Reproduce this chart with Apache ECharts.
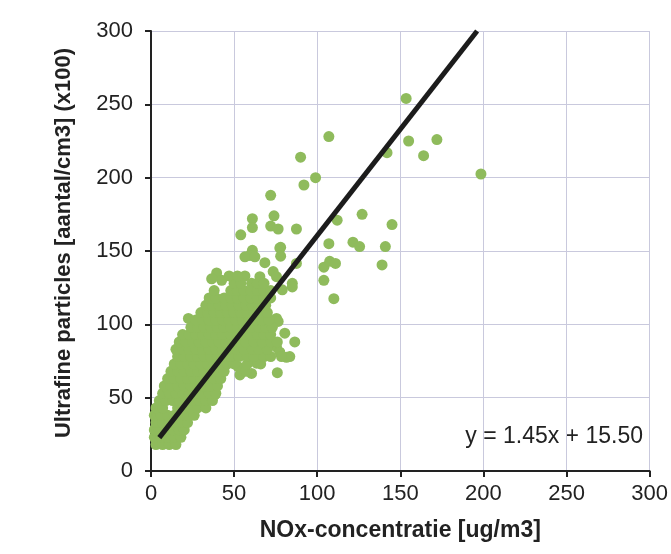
<!DOCTYPE html>
<html>
<head>
<meta charset="utf-8">
<script src="https://cdn.jsdelivr.net/npm/echarts@6/dist/echarts.min.js"></script>
<style>
html,body{margin:0;padding:0;background:#fff;}
#chart{width:671px;height:554px;}
</style>
</head>
<body>
<div id="chart"></div>
<script>
// Axis tick values
var xTicks = [0, 50, 100, 150, 200, 250, 300];
var yTicks = [0, 50, 100, 150, 200, 250, 300];
var xTitle = 'NOx-concentratie [ug/m3]';
var yTitle = 'Ultrafine particles [aantal/cm3] (x100)';

// Regression
var slope = 1.45;
var intercept = 15.50;
var fitStartX = 5;
var fitEndY = 300;

// Scattered (isolated) measurement points [NOx, UFP]
var outerPoints = [
  [107,228],[90,214],[142,217],[99,200],[92,195],[72,188],[61,172],[61,166],[74,174],[72,167],
  [76.5,165],[87.5,165],[54,161],[112,171],[127,175],[145,168],[107,155],[121.5,156],[125.5,153],[141,153],
  [78,152.5],[61,150.5],[153.5,254],[155,225],[172,226],[164,215],[198.5,202.5],[104,139],[107.5,143],[111,141.5],
  [139,140.5],[104,130],[85,128],[110,117.5],[77.5,152],[78,146.5],[59.5,147],[56.5,146],[62.5,146],[68.5,142],
  [87.5,141.5],[39.5,135],[36.5,131],[42.5,130],[56.5,133],[65.5,132.5],[73.5,136],[75.5,132.5],[79,123.5],[60.5,128],
  [22.5,104],[19.5,86],[17.5,86],[75.5,104],[76.5,102],[80.5,94],[86.5,88],[75.5,84.5],[77.5,81],[83.5,78],
  [81.5,77.5],[78.5,78],[64.5,77],[63.5,73.5],[52.5,71],[53.5,65.5],[60.5,66.5],[76,67],[38.5,52],[32.5,48.5],
  [23.5,40.5],[16.5,28],[15.5,22],[5.5,19],[2.5,29],[6.5,40.5],[85,125.5]
];

// Dense cluster points [NOx, UFP]
var clusterPoints = [
  [3,18],[7,18],[11,18],[15,18],
  [2,23],[6,23],[10,23],[14,23],[18,23],
  [2,28],[5,28],[9,28],[13,28],[17,28],[20,28],
  [3,33],[7,33],[11,33],[15,33],[19,33],[22,33],
  [2,38],[6,38],[10,38],[14,38],[18,38],[22,38],[26,38],
  [3,43],[7,43],[16,43],[20,43],[24,43],[28,43],[33,43],
  [5,48],[9,48],[13,48],[17,48],[21,48],[25,48],[29,48],[33,48],[37,48],
  [7,53],[11,53],[15,53],[19,53],[23,53],[27,53],[31,53],[35,53],[39,53],
  [8,58],[12,58],[16,58],[20,58],[24,58],[28,58],[32,58],[36,58],[40,58],
  [10,63],[14,63],[18,63],[22,63],[26,63],[30,63],[34,63],[38,63],[42,63],
  [12,68],[16,68],[20,68],[24,68],[28,68],[32,68],[36,68],[40,68],[44,68],[57,68],
  [14,73],[18,73],[22,73],[26,73],[30,73],[34,73],[38,73],[42,73],[46,73],[50,73],[58,73],[66,73],
  [16,78],[20,78],[24,78],[28,78],[32,78],[36,78],[40,78],[44,78],[48,78],[53,78],[58,78],[62,78],[68,78],[72,78],
  [15,83],[19,83],[23,83],[27,83],[31,83],[35,83],[39,83],[43,83],[47,83],[51,83],[56,83],[61,83],[65,83],[70,83],
  [17,88],[21,88],[25,88],[29,88],[33,88],[37,88],[41,88],[45,88],[49,88],[53,88],[57,88],[62,88],[67,88],[72,88],[76,88],
  [19,93],[23,93],[27,93],[31,93],[35,93],[39,93],[43,93],[48,93],[52,93],[56,93],[60,93],[64,93],[68,93],[72,93],
  [24,98],[28,98],[32,98],[36,98],[40,98],[44,98],[48,98],[52,98],[56,98],[60,98],[65,98],[69,98],[73,98],
  [27,103],[31,103],[35,103],[39,103],[43,103],[47,103],[51,103],[55,103],[59,103],[63,103],[67,103],[71,103],
  [30,108],[34,108],[38,108],[42,108],[46,108],[50,108],[54,108],[58,108],[62,108],[66,108],[70,108],
  [33,113],[37,113],[41,113],[45,113],[49,113],[53,113],[57,113],[61,113],[65,113],[69,113],
  [35,118],[39,118],[44,118],[48,118],[52,118],[56,118],[60,118],[64,118],[68,118],[72,118],
  [38,123],[48,123],[52,123],[56,123],[60,123],[64,123],[68,123],[72,123],
  [50,128],[54,128],[64,128],[68,128],
  [47,133],[52,133]
];

var scatterData = outerPoints.concat(clusterPoints);
var fitLine = [[fitStartX, slope * fitStartX + intercept], [(fitEndY - intercept) / slope, fitEndY]];

var chart = echarts.init(document.getElementById('chart'), null, {renderer: 'canvas'});
var font = 'Liberation Sans, Arial, Helvetica, sans-serif';
var axisCommon = function (name, gap, nameSize) {
  return {
    type: 'value', min: xTicks[0], max: xTicks[xTicks.length - 1], interval: 50,
    name: name, nameLocation: 'middle', nameGap: gap,
    nameTextStyle: {fontFamily: font, fontSize: nameSize, fontWeight: 'bold', color: '#222'},
    axisLine: {show: true, lineStyle: {color: '#222', width: 2}},
    axisTick: {show: true, inside: false, length: 6, lineStyle: {color: '#222', width: 2}},
    axisLabel: {fontFamily: font, fontSize: 22, color: '#222'},
    splitLine: {show: true, lineStyle: {color: '#c9c9dd', width: 1}}
  };
};
var xa = axisCommon(xTitle, 48, 23);
xa.axisLabel.margin = 12;
var ya = axisCommon(yTitle, 76, 22);
ya.min = yTicks[0]; ya.max = yTicks[yTicks.length - 1];
ya.axisLabel.margin = 18;
ya.nameTextStyle.padding = [0, 0, 0, 16];

chart.setOption({
  backgroundColor: '#fff',
  animation: false,
  grid: {left: 151, right: 20, top: 31, bottom: 83, containLabel: false},
  xAxis: xa,
  yAxis: ya,
  graphic: [{
    type: 'text', right: 28, top: 425,
    style: {text: 'y = ' + slope.toFixed(2) + 'x + ' + intercept.toFixed(2), font: '23px ' + font, fill: '#222'}
  }],
  series: [{
    type: 'scatter', data: scatterData, symbol: 'circle', symbolSize: 11,
    itemStyle: {color: '#8fbb5c', opacity: 1}, z: 2
  }, {
    type: 'line', data: fitLine, symbol: 'none', z: 3,
    lineStyle: {color: '#1c1c1c', width: 5}
  }]
});
</script>
</body>
</html>
